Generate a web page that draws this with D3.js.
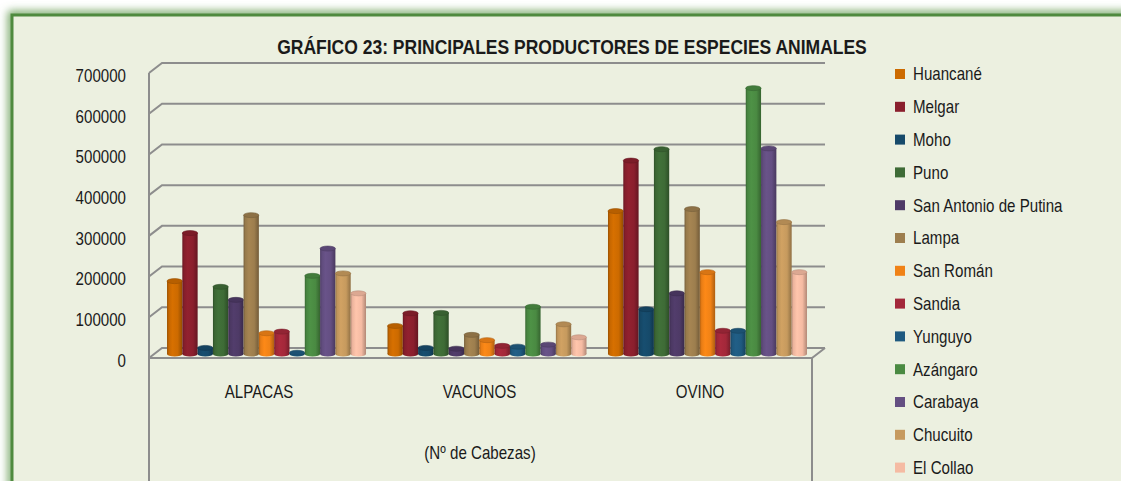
<!DOCTYPE html>
<html>
<head>
<meta charset="utf-8">
<script src="https://cdn.jsdelivr.net/npm/d3@7"></script>
<style>
  body { margin: 0; background: #ffffff; }
  text { font-family: "Liberation Sans", Arial, sans-serif; fill: #1a1a1a; }
</style>
</head>
<body>
<svg id="chart"></svg>
<script>
var categories = ["ALPACAS", "VACUNOS", "OVINO"]
var provinces = ["Huancané", "Melgar", "Moho", "Puno", "San Antonio de Putina", "Lampa",
                 "San Román", "Sandia", "Yunguyo", "Azángaro", "Carabaya", "Chucuito", "El Collao"]
var colors = ["#cc6a00", "#8a1f2d", "#164a6a", "#3e6b36", "#4e3a66", "#9d7e4e",
              "#f08216", "#a3283a", "#1f5a80", "#4a8a42", "#644f82", "#c69a5e", "#f5bba3"]
// values in province order
var alpacas = [179000, 297000, 15000, 165000, 133000, 341000, 51000, 55000, 3000, 192000, 259000, 198000, 149000]
var vacunos = [69000, 100000, 15000, 101000, 13000, 47000, 34000, 20000, 18000, 116000, 23000, 73000, 41000]
var ovino = [351000, 475000, 110000, 503000, 149000, 356000, 201000, 57000, 57000, 653000, 505000, 324000, 201000]
var yTicks = [0, 100000, 200000, 300000, 400000, 500000, 600000, 700000]

var dimensions = {
  width: 1121,
  height: 481,
  depth: { dx: 13, dy: 10 },
  wall: { left: 162, right: 825, bottom: 348, top: 63 },
}
var narrow = " scale(0.84,1)"

var dataset = categories.map(function(c, i) {
  var vals = [alpacas, vacunos, ovino][i]
  return { cat: c, values: provinces.map(function(p, j) { return { prov: p, idx: j, value: vals[j] } }) }
})

var svg = d3.select("#chart")
            .attr("width", dimensions.width)
            .attr("height", dimensions.height)

var defs = svg.append("defs")
defs.append("filter").attr("id", "glow").attr("x", "-5%").attr("y", "-5%").attr("width", "110%").attr("height", "110%")
    .append("feGaussianBlur").attr("stdDeviation", 4)

// frame
svg.append("rect").attr("x", 12).attr("y", 15).attr("width", 1140).attr("height", 500)
    .attr("fill", "none").attr("stroke", "#6fa25f").attr("stroke-width", 8).attr("filter", "url(#glow)")
svg.append("rect").attr("x", 12).attr("y", 15).attr("width", 1140).attr("height", 500)
    .attr("fill", "#ecf0e0").attr("stroke", "#4f8a3f").attr("stroke-width", 3)

var wall = dimensions.wall
var dx = dimensions.depth.dx, dy = dimensions.depth.dy

var yBack = d3.scaleLinear().domain([0, 700000]).range([wall.bottom, wall.top])

// gridlines on the back wall + side diagonal
var grid = svg.append("g").attr("stroke", "#8d8d8d").attr("stroke-width", 2).attr("fill", "none")
grid.selectAll("path.grid")
    .data(yTicks)
    .enter()
    .append("path")
    .attr("class", "grid")
    .attr("d", function(d) {
      var y = yBack(d)
      return "M" + (wall.left - dx) + "," + (y + dy) + "L" + wall.left + "," + y + "L" + wall.right + "," + y
    })
// axis and floor
grid.append("path")
    .attr("d", "M" + (wall.left - dx) + "," + (wall.top + dy) + "V" + dimensions.height)
grid.append("path")
    .attr("d", "M" + (wall.left - dx) + "," + (wall.bottom + dy) + "H" + (wall.right - dx) +
               "L" + wall.right + "," + wall.bottom)
grid.append("path")
    .attr("d", "M" + (wall.right - dx) + "," + (wall.bottom + dy) + "V" + dimensions.height)

// y labels
svg.append("g")
    .selectAll("text")
    .data(yTicks)
    .enter()
    .append("text")
    .attr("transform", d => "translate(126," + (yBack(d) + dy + 2.5) + ")" + narrow)
    .attr("dy", "0.35em")
    .attr("text-anchor", "end")
    .style("font-size", "18px")
    .text(d => d)

// bars sit a bit in front of the back wall
var barShift = { x: -7, y: 6 }
var xScale = d3.scaleBand()
            .domain(categories)
            .range([156, 818])
            .paddingInner(0.0975)
            .paddingOuter(0.05)
var xInner = d3.scaleBand()
            .domain(provinces)
            .range([0, xScale.bandwidth()])
var yBar = d3.scaleLinear().domain([0, 700000]).range([wall.bottom + barShift.y, wall.top + barShift.y])

colors.forEach(function(c, i) {
  var g = defs.append("linearGradient").attr("id", "cyl" + i).attr("x1", 0).attr("x2", 1).attr("y1", 0).attr("y2", 0)
  var base = d3.color(c)
  g.append("stop").attr("offset", "0%").attr("stop-color", base.darker(0.8))
  g.append("stop").attr("offset", "12%").attr("stop-color", base.darker(0.1))
  g.append("stop").attr("offset", "35%").attr("stop-color", base.brighter(0.15))
  g.append("stop").attr("offset", "70%").attr("stop-color", base)
  g.append("stop").attr("offset", "100%").attr("stop-color", base.darker(0.9))
})

var groups = svg.append("g")
    .selectAll("g")
    .data(dataset)
    .enter()
    .append("g")
    .attr("transform", d => "translate(" + xScale(d.cat) + ",0)")

var bw = xInner.bandwidth()
var bars = groups.selectAll("g.bar")
    .data(d => d.values)
    .enter()
    .append("g")
    .attr("class", "bar")

bars.append("ellipse")
    .attr("cx", d => xInner(d.prov) + bw / 2)
    .attr("cy", yBar(0))
    .attr("rx", bw / 2)
    .attr("ry", 2.5)
    .attr("fill", d => "url(#cyl" + d.idx + ")")
bars.append("rect")
    .attr("x", d => xInner(d.prov))
    .attr("y", d => yBar(d.value))
    .attr("width", bw)
    .attr("height", d => yBar(0) - yBar(d.value))
    .attr("fill", d => "url(#cyl" + d.idx + ")")
bars.append("ellipse")
    .attr("cx", d => xInner(d.prov) + bw / 2)
    .attr("cy", d => yBar(d.value))
    .attr("rx", bw / 2)
    .attr("ry", 2.5)
    .attr("fill", d => d3.color(colors[d.idx]).darker(0.3))
    .attr("stroke", d => d3.color(colors[d.idx]).darker(0.8))
    .attr("stroke-width", 0.6)

// category labels
svg.append("g")
    .selectAll("text")
    .data(categories)
    .enter()
    .append("text")
    .attr("transform", d => "translate(" + (xScale(d) + xScale.bandwidth() / 2 - 7.5) + ",398)" + narrow)
    .attr("text-anchor", "middle")
    .style("font-size", "18px")
    .text(d => d)

svg.append("text")
    .attr("transform", "translate(480,459)" + narrow)
    .attr("text-anchor", "middle")
    .style("font-size", "18px")
    .text("(Nº de Cabezas)")

svg.append("text")
    .attr("transform", "translate(572,54) scale(0.875,1)")
    .attr("text-anchor", "middle")
    .style("font-size", "20px")
    .style("font-weight", "bold")
    .text("GRÁFICO 23: PRINCIPALES PRODUCTORES DE ESPECIES ANIMALES")

// legend
var legend = svg.append("g")
    .selectAll("g")
    .data(provinces)
    .enter()
    .append("g")
    .attr("transform", (d, i) => "translate(895," + (74 + i * 32.8) + ")")
legend.append("rect")
    .attr("x", 0).attr("y", -5).attr("width", 10).attr("height", 10)
    .attr("fill", (d, i) => colors[i])
legend.append("text")
    .attr("transform", "translate(18,0)" + narrow)
    .attr("dy", "0.35em")
    .style("font-size", "18px")
    .text(d => d)
</script>
</body>
</html>
